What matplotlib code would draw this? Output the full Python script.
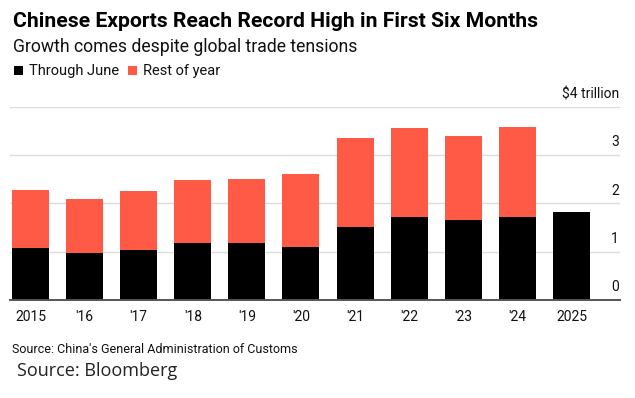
import matplotlib
matplotlib.use("Agg")
import matplotlib.pyplot as plt
from matplotlib.patches import Rectangle
import matplotlib.transforms as mtransforms

years = ["2015", "'16", "'17", "'18", "'19", "'20", "'21", "'22", "'23", "'24", "2025"]
through_june = [1.07, 0.97, 1.04, 1.17, 1.17, 1.10, 1.52, 1.71, 1.66, 1.71, 1.82]
full_year = [2.28, 2.10, 2.26, 2.49, 2.50, 2.60, 3.36, 3.55, 3.39, 3.59, None]
rest_of_year = [(f - h) if f is not None else 0.0 for f, h in zip(full_year, through_june)]
y_ticks = [0, 1, 2, 3, 4]
y_tick_labels = ["0", "1", "2", "3", "$4 trillion"]
legend_labels = ["Through June", "Rest of year"]

BLACK = "#000000"
RED = "#FF5A45"

plt.rcParams["font.family"] = ["Roboto", "DejaVu Sans"]

fig = plt.figure(figsize=(6.35, 3.98), dpi=100)
W, H = 635, 398
ax = fig.add_axes([10 / W, 1 - 300 / H, 610 / W, (300 - 106.7) / H])

x = list(range(len(years)))
ax.bar(x, through_june, width=0.684, color=BLACK, zorder=3)
ax.bar(x, rest_of_year, bottom=through_june, width=0.684, color=RED, zorder=3)

ax.set_xlim(-0.379, 10.897)
ax.set_ylim(0, 4)
ax.set_yticks(y_ticks)
ax.tick_params(axis="y", length=0, labelleft=False)
ax.grid(axis="y", color="#dcdcdc", linewidth=1.0, zorder=0)
ax.set_xticks(x)
ax.set_xticklabels(years, fontsize=10, color="#111111")
ax.tick_params(axis="x", length=0, pad=7)
for s in ["top", "right", "left"]:
    ax.spines[s].set_visible(False)
ax.spines["bottom"].set_color("#555555")
ax.spines["bottom"].set_linewidth(1.4)
ax.spines["bottom"].set_zorder(4)

trans = mtransforms.blended_transform_factory(ax.transAxes, ax.transData)
lift = mtransforms.ScaledTranslation(0, 4 / 72, fig.dpi_scale_trans)
for v, lab in zip(y_ticks, y_tick_labels):
    ax.text(0.998, v, lab, transform=trans + lift, ha="right", va="bottom",
            fontsize=10, color="#111111")

fig.text(13 / W, 1 - 27 / H, "Chinese Exports Reach Record High in First Six Months",
         fontsize=15.2, fontweight="bold", ha="left", va="baseline", color="#000000")
fig.text(13 / W, 1 - 52 / H, "Growth comes despite global trade tensions",
         fontsize=12.7, ha="left", va="baseline", color="#111111")

# legend drawn by hand: squares + labels
for px, col, lab in [(14, BLACK, legend_labels[0]), (128, RED, legend_labels[1])]:
    fig.add_artist(Rectangle((px / W, 1 - 75 / H), 9 / W, 9 / H, transform=fig.transFigure,
                             facecolor=col, edgecolor="none"))
    fig.text((px + 15) / W, 1 - 75.5 / H, lab, fontsize=10.5, ha="left", va="baseline",
             color="#111111")

fig.text(12 / W, 1 - 353 / H, "Source: China's General Administration of Customs",
         fontsize=9, ha="left", va="baseline", color="#111111")
fig.text(17 / W, 1 - 376 / H, "Source: Bloomberg", fontsize=13, ha="left", va="baseline",
         color="#222222", family=["Open Sans", "DejaVu Sans"])

fig.savefig("out.png", dpi=100)
